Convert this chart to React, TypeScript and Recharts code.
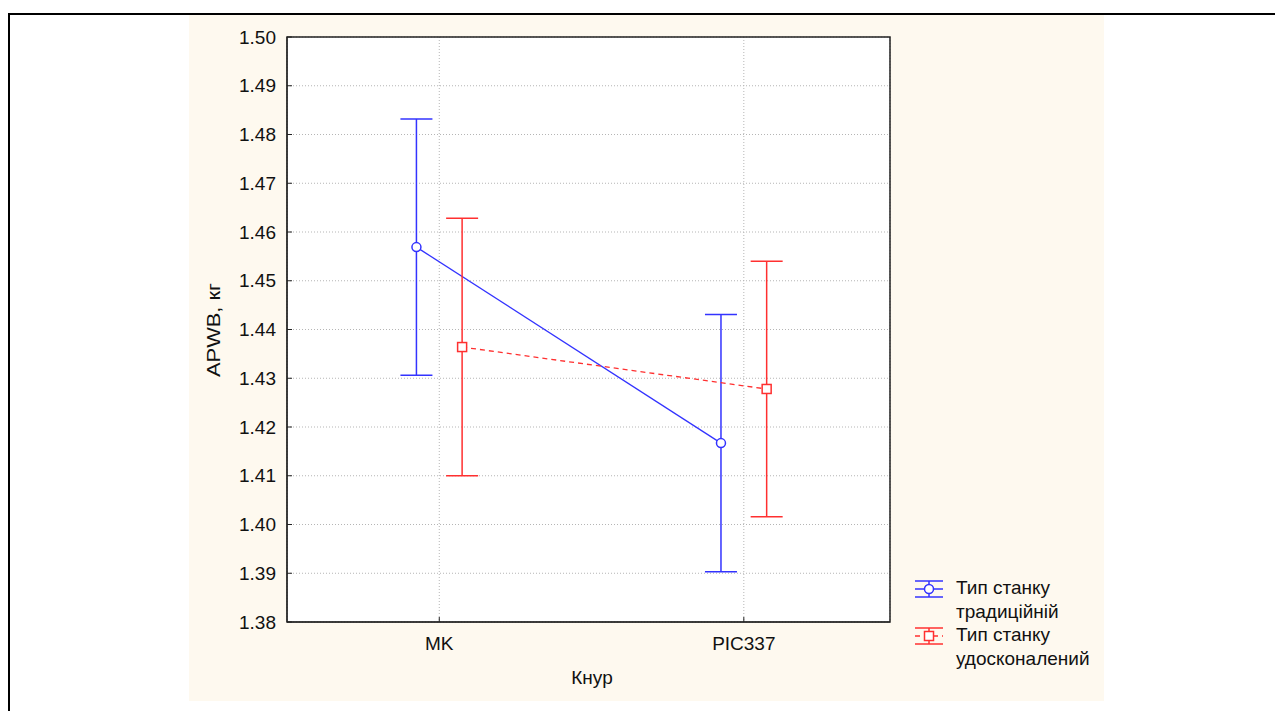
import React from "react";
import {
  LineChart,
  Line,
  XAxis,
  YAxis,
  CartesianGrid,
  ErrorBar,
  ReferenceArea,
} from "recharts";

// categories on the x axis (boar line)
const categories = ["MK", "PIC337"];
// means and half-width of the whiskers
const traditionalMeans = [1.4569, 1.4167];
const traditionalErrors = [0.0263, 0.0264];
const improvedMeans = [1.4364, 1.4278];
const improvedErrors = [0.0264, 0.0262];
// y ticks
const yTicks = [1.38, 1.39, 1.4, 1.41, 1.42, 1.43, 1.44, 1.45, 1.46, 1.47, 1.48, 1.49, 1.5];

const BLUE = "#3333ff";
const RED = "#ff3030";
const SHIFT = 0.075; // side-by-side shift of the two groups

const traditionalData = categories.map((c, i) => ({
  x: i - SHIFT,
  name: c,
  value: traditionalMeans[i],
  err: traditionalErrors[i],
}));
const improvedData = categories.map((c, i) => ({
  x: i + SHIFT,
  name: c,
  value: improvedMeans[i],
  err: improvedErrors[i],
}));

const SquareDot = (props: any) => {
  const { cx, cy } = props;
  if (cx == null || cy == null) return null;
  return (
    <rect x={cx - 4.5} y={cy - 4.5} width={9} height={9} fill="#fff" stroke={RED} strokeWidth={1.5} />
  );
};

const CircleDot = (props: any) => {
  const { cx, cy } = props;
  if (cx == null || cy == null) return null;
  return <circle cx={cx} cy={cy} r={4.5} fill="#fff" stroke={BLUE} strokeWidth={1.5} />;
};

const font = "'Liberation Sans', Arial, sans-serif";
const FS = 19;

function LegendIcon({ color, square }: { color: string; square?: boolean }) {
  return (
    <svg width={32} height={18} style={{ display: "block" }}>
      <line x1={2} y1={1} x2={30} y2={1} stroke={color} strokeWidth={1.5} />
      <line x1={2} y1={17} x2={30} y2={17} stroke={color} strokeWidth={1.5} />
      <line x1={16} y1={1} x2={16} y2={17} stroke={color} strokeWidth={1.5} />
      {square ? (
        <>
          <line x1={2} y1={9} x2={30} y2={9} stroke={color} strokeWidth={1.5} strokeDasharray="5 4" />
          <rect x={11.5} y={4.5} width={9} height={9} fill="#fff" stroke={color} strokeWidth={1.5} />
        </>
      ) : (
        <>
          <line x1={2} y1={9} x2={30} y2={9} stroke={color} strokeWidth={1.5} />
          <circle cx={16} cy={9} r={4.5} fill="#fff" stroke={color} strokeWidth={1.5} />
        </>
      )}
    </svg>
  );
}

const textStyle: React.CSSProperties = {
  position: "absolute",
  fontSize: FS,
  color: "#111",
  whiteSpace: "nowrap",
  lineHeight: "24px",
};

export default function App() {
  return (
    <div
      style={{
        position: "absolute",
        left: 0,
        top: 0,
        width: 1275,
        height: 711,
        overflow: "hidden",
        background: "#fff",
        fontFamily: font,
      }}
    >
      {/* outer frame */}
      <div
        style={{
          position: "absolute",
          left: 8,
          top: 13,
          width: 1300,
          height: 720,
          borderTop: "2px solid #000",
          borderLeft: "2px solid #000",
        }}
      />
      <div
        style={{
          position: "absolute",
          left: 189,
          top: 15,
          width: 915,
          height: 686,
          background: "#fef9ef",
        }}
      >
        <LineChart
          width={915}
          height={686}
          margin={{ top: 22, right: 214, left: 38, bottom: 49 }}
        >
          <CartesianGrid stroke="#b5b5b5" strokeDasharray="1 2" fill="#fff" />
          <XAxis
            type="number"
            dataKey="x"
            domain={[-0.5, 1.48]}
            ticks={[0, 1]}
            tickFormatter={(v: number) => categories[v] ?? ""}
            allowDataOverflow
            height={30}
            tickSize={-5}
            tickMargin={20}
            stroke="#222"
            tick={{ fill: "#111", fontSize: FS, fontFamily: font }}
          />
          <YAxis
            type="number"
            domain={[1.38, 1.5]}
            ticks={yTicks}
            allowDataOverflow
            width={60}
            tickSize={-5}
            tickMargin={16}
            stroke="#222"
            tickFormatter={(v: number) => v.toFixed(2)}
            tick={{ fill: "#111", fontSize: FS, fontFamily: font }}
          />
          <ReferenceArea
            x1={-0.5}
            x2={1.48}
            y1={1.38}
            y2={1.5}
            fill="none"
            fillOpacity={0}
            stroke="#222"
            strokeWidth={1.5}
          />
          <Line
            data={traditionalData}
            dataKey="value"
            type="linear"
            stroke={BLUE}
            strokeWidth={1.3}
            dot={<CircleDot />}
            activeDot={false}
            isAnimationActive={false}
          >
            <ErrorBar dataKey="err" width={16} stroke={BLUE} strokeWidth={1.5} direction="y" />
          </Line>
          <Line
            data={improvedData}
            dataKey="value"
            type="linear"
            stroke={RED}
            strokeWidth={1.3}
            strokeDasharray="5 4"
            dot={<SquareDot />}
            activeDot={false}
            isAnimationActive={false}
          >
            <ErrorBar dataKey="err" width={16} stroke={RED} strokeWidth={1.5} direction="y" />
          </Line>
        </LineChart>
      </div>
      {/* axis titles */}
      <div
        style={{
          ...textStyle,
          left: 214,
          top: 330,
          transform: "translate(-50%, -50%) rotate(-90deg) scaleX(1.15)",
        }}
      >
        APWB, кг
      </div>
      <div style={{ ...textStyle, left: 592, top: 678, transform: "translate(-50%, -50%)" }}>
        Кнур
      </div>
      {/* legend */}
      <div style={{ position: "absolute", left: 913, top: 580 }}>
        <LegendIcon color={BLUE} />
      </div>
      <div style={{ ...textStyle, left: 956, top: 576 }}>
        Тип станку
        <br />
        традиційній
      </div>
      <div style={{ position: "absolute", left: 913, top: 627 }}>
        <LegendIcon color={RED} square />
      </div>
      <div style={{ ...textStyle, left: 956, top: 623 }}>
        Тип станку
        <br />
        удосконалений
      </div>
    </div>
  );
}
